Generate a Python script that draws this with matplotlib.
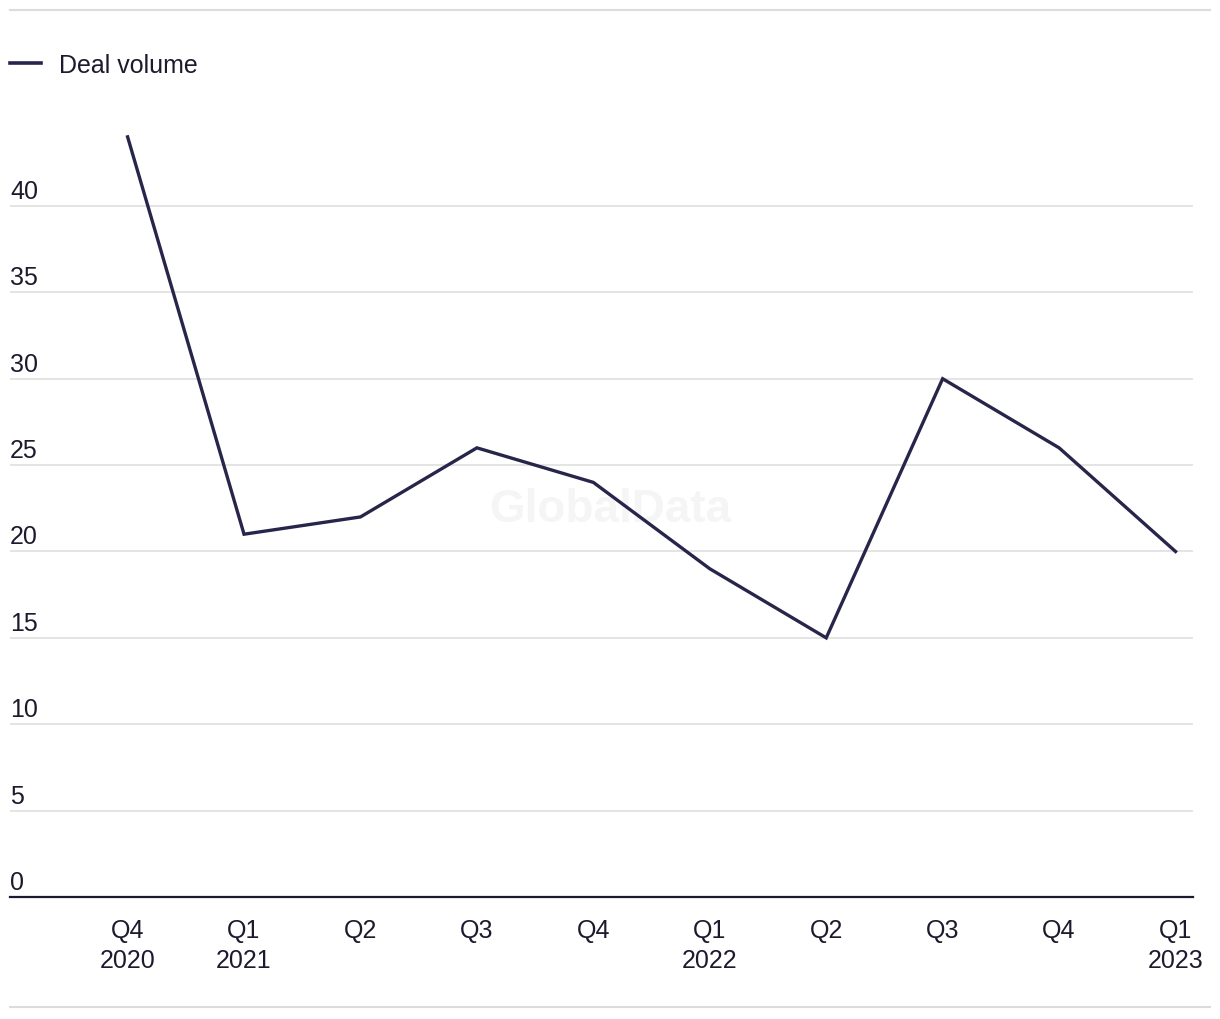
import matplotlib.pyplot as plt
from matplotlib.lines import Line2D
import matplotlib.transforms as mtransforms

quarters = ["Q4\n2020", "Q1\n2021", "Q2", "Q3", "Q4", "Q1\n2022", "Q2", "Q3", "Q4", "Q1\n2023"]
deal_volume = [44, 21, 22, 26, 24, 19, 15, 30, 26, 20]
y_ticks = [0, 5, 10, 15, 20, 25, 30, 35, 40]

line_color = "#28254b"
text_color = "#1c1b2e"
plt.rcParams['font.family'] = ['Liberation Sans', 'DejaVu Sans']
fs = 18

fig = plt.figure(figsize=(12.2, 10.2), dpi=100)
ax = fig.add_axes([10 / 1220, 1 - 898 / 1020, 1183 / 1220, (898 - 120.6) / 1020])

x = list(range(len(deal_volume)))
ax.plot(x, deal_volume, color=line_color, lw=2.4, solid_joinstyle='miter', zorder=3)

ax.set_xlim(-1.01, 9.15)
ax.set_ylim(0, 45)

lbl_trans = mtransforms.blended_transform_factory(ax.transAxes, ax.transData) + \
    mtransforms.ScaledTranslation(0, 8 / 100, fig.dpi_scale_trans)
for v in y_ticks:
    if v > 0:
        ax.axhline(v, color="#dcdcdc", lw=1.1, zorder=1)
    ax.text(0, v, str(v), transform=lbl_trans, ha='left', va='baseline',
            fontsize=fs, color=text_color)
ax.axhline(0, color=text_color, lw=1.6, zorder=4, clip_on=False)

for s in ax.spines.values():
    s.set_visible(False)
ax.set_yticks([])
ax.set_xticks(x)
ax.set_xticklabels(quarters, fontsize=fs, color=text_color, linespacing=1.35)
ax.tick_params(axis='x', length=0, pad=15)

ax.text(0.5, 0.5, "GlobalData", transform=fig.transFigure, ha='center', va='center',
        fontsize=33, fontweight='bold', color="#f5f5f5", zorder=0)

# legend
fig.add_artist(Line2D([10 / 1220, 41 / 1220], [1 - 64 / 1020] * 2, color=line_color, lw=2.6))
fig.text(59 / 1220, 1 - 66 / 1020, "Deal volume", ha='left', va='center', fontsize=fs, color=text_color)

# top and bottom border lines
fig.add_artist(Line2D([10 / 1220, 1210 / 1220], [1 - 11 / 1020] * 2, color="#dcdcdc", lw=1.5))
fig.add_artist(Line2D([10 / 1220, 1210 / 1220], [1 - 1008 / 1020] * 2, color="#dcdcdc", lw=1.5))

fig.savefig("out.png", dpi=100, facecolor="white")
